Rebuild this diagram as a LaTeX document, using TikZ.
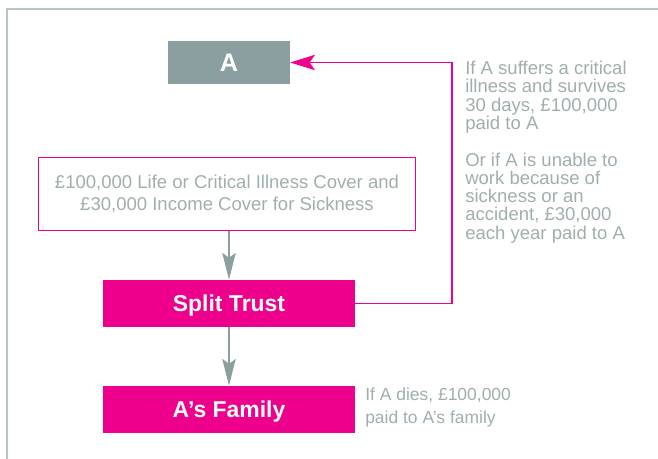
\documentclass[tikz,border=0pt]{standalone}
\usepackage{fontspec}
\setmainfont{Liberation Sans}
\usetikzlibrary{arrows.meta}

\definecolor{trustpink}{HTML}{EC008C}
\definecolor{slategrey}{HTML}{8C9FA0}
\definecolor{notegrey}{HTML}{A0AEAE}
\definecolor{framegrey}{HTML}{B9C6C4}
\definecolor{flowgrey}{HTML}{8D9E9F}

\begin{document}
\begin{tikzpicture}[x=0.75pt,y=-0.75pt,
  pinkbox/.style={fill=trustpink, text=white, inner sep=0pt,
    font=\bfseries\fontsize{17.2}{20}\selectfont, text depth=0pt,
    minimum width=189pt, minimum height=35.25pt},
  greybox/.style={fill=slategrey, text=white, inner sep=0pt,
    font=\bfseries\fontsize{19}{22}\selectfont,
    minimum width=91.5pt, minimum height=32.25pt},
  coverbox/.style={draw=trustpink, line width=0.9pt, text=notegrey,
    align=center, inner sep=0pt,
    font=\fontsize{13.9}{16.3}\selectfont,
    minimum width=283pt, minimum height=55pt},
  note/.style={text=notegrey, align=left, inner sep=0pt, anchor=north west},
  flow/.style={flowgrey, line width=1.6pt,
    -{Stealth[length=20pt 0 0, width=10pt 0 0, inset=3.5pt 0 0]}},
  link/.style={trustpink, line width=0.9pt,
    -{Stealth[length=18.5pt 0 0, width=11.5pt 0 0, inset=4pt 0 0]}}]

  \useasboundingbox (0,0) rectangle (658,459);

  % open frame along the top and left edges
  \draw[framegrey, line width=1.3pt] (7,459) -- (7,9) -- (658,9);

  % boxes
  \node[greybox] (a) at (229,62.5) {A};
  \node[coverbox] (cover) at (227,194)
    {£100,000 Life or Critical Illness Cover and\\£30,000 Income Cover for Sickness};
  \node[pinkbox] (trust) at (229,303.5) {Split Trust};
  \node[pinkbox] (family) at (229,409.5) {A’s Family};

  % side notes
  \node[note, font=\fontsize{13.9}{13.7}\selectfont] (benefit) at (465,61)
    {If A suffers a critical\\illness and survives\\30 days, £100,000\\paid to A\\[13.7pt]
     Or if A is unable to\\work because of\\sickness or an\\accident, £30,000\\each year paid to A};
  \node[note, font=\fontsize{13.1}{17.2}\selectfont] (death) at (365,388)
    {If A dies, £100,000\\paid to A’s family};

  % connectors
  \draw[flow] (cover.south -| trust.north) -- (trust.north);
  \draw[flow] (trust.south) -- (family.north);
  \coordinate (bend) at (452,303.5);
  \draw[link] (trust.east) -- (bend) |- (a.east);
\end{tikzpicture}
\end{document}
